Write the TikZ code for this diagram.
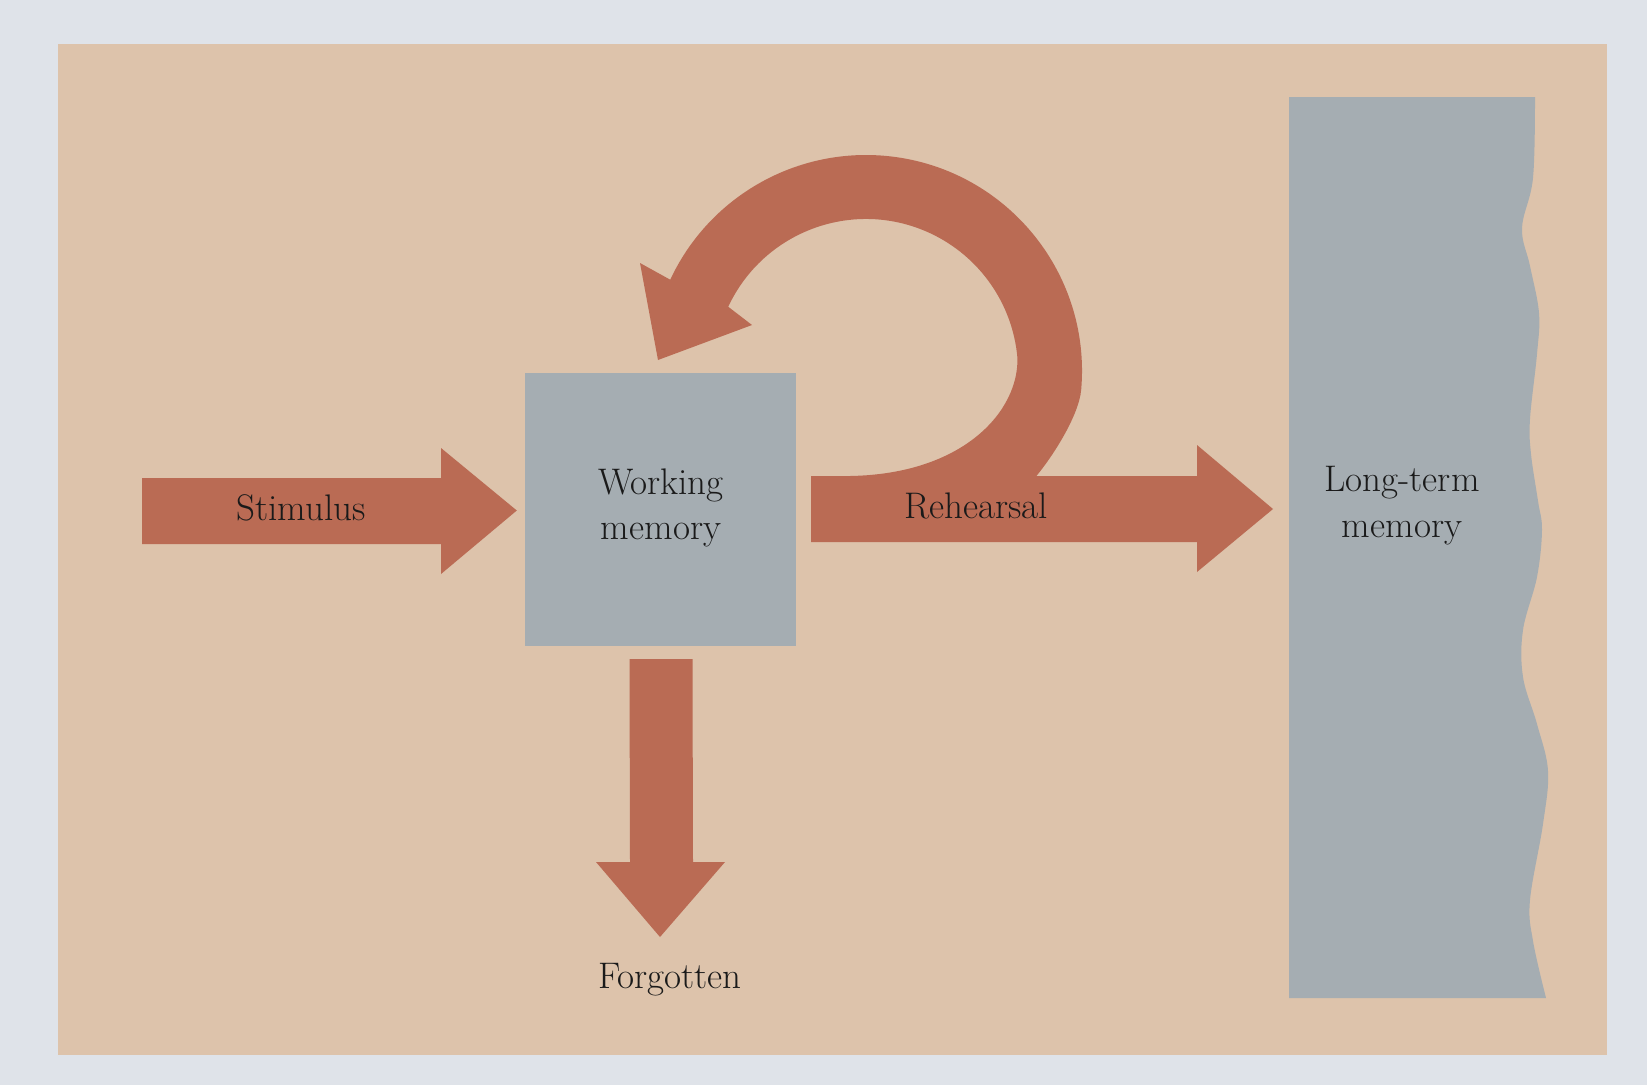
\documentclass[tikz,border=0pt]{standalone}
\usetikzlibrary{calc}
\definecolor{pagebg}{HTML}{DFE3E9}
\definecolor{panel}{HTML}{DDC3AB}
\definecolor{arrowred}{HTML}{BA6B54}
\definecolor{memgrey}{HTML}{A5ADB2}
\definecolor{inktext}{HTML}{1A1A1A}
\begin{document}
\begin{tikzpicture}[x=1pt,y=-1pt,
  lbl/.style={text=inktext, font=\fontsize{37}{45}\selectfont, inner sep=0pt, anchor=base},
  blockarrow/.style={fill=arrowred, draw=none},
  membox/.style={fill=memgrey, draw=none}]
\useasboundingbox (0,0) rectangle (1647,1085);
\fill[pagebg] (0,0) rectangle (1647,1085);
\fill[panel] (58,44) rectangle (1607,1055);

% working memory box
\node[membox, minimum width=271pt, minimum height=273pt, inner sep=0pt] (wm) at (660.5,509.5) {};

% long-term memory (torn right edge)
\fill[memgrey] (1289,97) -- plot[smooth, tension=0.6] coordinates {
  (1535,97) (1533,178) (1522,228) (1530,266) (1539,313) (1537,354)
  (1530,419) (1531,454) (1538,501) (1542,530) (1537,577) (1523,630)
  (1523,677) (1537,724) (1548,771) (1543,824) (1530,900) (1533,941)
  (1546,998)}
  -- (1289,998) -- cycle;
\coordinate (ltm) at (1289,509);

% stimulus arrow
\coordinate (stimtip) at ($(wm.west)+(-8,1)$);
\fill[blockarrow] (142,478) -- (441,478) -- (441,448) -- (stimtip) -- (441,574) -- (441,544) -- (142,544) -- cycle;

% rehearsal arrow
\coordinate (rehtip) at ($(ltm)+(-16,0)$);
\fill[blockarrow] ($(wm.east)+(15,-33.5)$) -- (1197,476) -- (1197,445) -- (rehtip) -- (1197,572) -- (1197,542) -- ($(wm.east)+(15,32.5)$) -- cycle;

% forgotten arrow
\coordinate (forgtip) at (660,937);
\fill[blockarrow] ($(wm.south)+(-31,13)$) -- ($(wm.south)+(32,13)$) -- (693,862) -- (725,862) -- (forgtip) -- (596,862) -- (630,862) -- cycle;

% rehearsal loop
\coordinate (C) at (866,371);
\fill[blockarrow] (1033,480) .. controls (1053,457) and (1079,415) .. ($(C)+(5:216)$)
  arc[start angle=5, end angle=-155, radius=216]
  -- (640,263) -- (658,360) -- (752,325) -- ($(C)+(-155:152)$)
  arc[start angle=-155, end angle=-5, radius=152]
  .. controls (1019,410) and (965,474) .. (850,476) -- (850,486) -- (1033,486) -- cycle;

% labels
\node[lbl] (stim) at (301,520) {Stimulus};
\node[lbl] (reh) at (976,518) {Rehearsal};
\node[lbl] (wm1) at (661,494) {Working};
\node[lbl] (wm2) at (661,539) {memory};
\node[lbl] (ltm1) at (1402,491) {Long-term};
\node[lbl] (ltm2) at (1402,537) {memory};
\node[lbl] (forg) at (670,988) {Forgotten};
\end{tikzpicture}
\end{document}
